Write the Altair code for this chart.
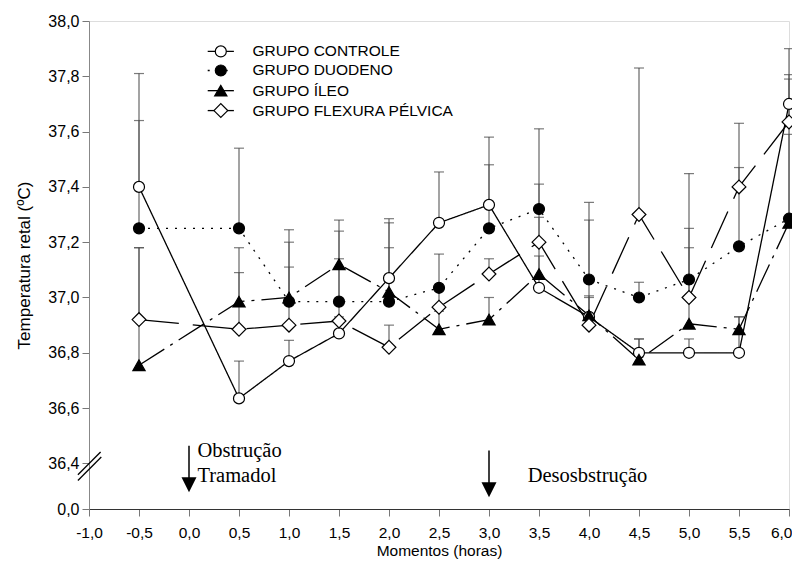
import altair as alt
import pandas as pd

# ---------------- data ----------------
momentos = [-0.5, 0.5, 1.0, 1.5, 2.0, 2.5, 3.0, 3.5, 4.0, 4.5, 5.0, 5.5, 6.0]
grupos = ["GRUPO CONTROLE", "GRUPO DUODENO", "GRUPO ÍLEO", "GRUPO FLEXURA PÉLVICA"]

controle = [37.40, 36.635, 36.77, 36.87, 37.07, 37.27, 37.335, 37.035, 36.93, 36.80, 36.80, 36.80, 37.70]
duodeno = [37.25, 37.25, 36.985, 36.985, 36.985, 37.035, 37.25, 37.32, 37.065, 37.00, 37.065, 37.185, 37.285]
ileo = [36.755, 36.985, 37.00, 37.12, 37.02, 36.885, 36.92, 37.085, 36.935, 36.775, 36.905, 36.885, 37.27]
flexura = [36.92, 36.885, 36.90, 36.915, 36.82, 36.965, 37.085, 37.20, 36.90, 37.30, 37.00, 37.40, 37.635]

controle_sup = [37.81, 36.77, 36.845, 36.93, 37.285, 37.454, 37.58, 37.29, 37.006, 36.85, 36.85, 36.93, 37.90]
duodeno_sup = [37.64, 37.54, 37.245, 37.24, 37.18, 37.157, 37.48, 37.61, 37.344, 37.055, 37.448, 37.47, 37.59]
ileo_sup = [37.18, 37.18, 37.20, 37.28, 37.27, 36.95, 37.00, 37.15, 37.00, 36.85, 37.18, 36.93, 37.79]
flexura_sup = [37.18, 37.09, 37.11, 37.14, 36.90, 37.03, 37.14, 37.41, 37.28, 37.83, 37.25, 37.63, 37.806]

y_ticks = [36.4, 36.6, 36.8, 37.0, 37.2, 37.4, 37.6, 37.8, 38.0]
x_ticks = [-1.0, -0.5, 0.0, 0.5, 1.0, 1.5, 2.0, 2.5, 3.0, 3.5, 4.0, 4.5, 5.0, 5.5, 6.0]
Y_ZERO = 36.235  # position standing for "0,0" below the axis break

# ---------------- styles ----------------
dashes = {
    "GRUPO CONTROLE": [1, 0],
    "GRUPO DUODENO": [2, 7],
    "GRUPO ÍLEO": [30, 7, 3, 7],
    "GRUPO FLEXURA PÉLVICA": [40, 14],
}
shapes = {"GRUPO CONTROLE": "circle", "GRUPO DUODENO": "circle",
          "GRUPO ÍLEO": "triangle-up", "GRUPO FLEXURA PÉLVICA": "diamond"}
fills = {"GRUPO CONTROLE": "white", "GRUPO DUODENO": "black",
         "GRUPO ÍLEO": "black", "GRUPO FLEXURA PÉLVICA": "white"}
sizes = {"GRUPO CONTROLE": 121, "GRUPO DUODENO": 121,
         "GRUPO ÍLEO": 150, "GRUPO FLEXURA PÉLVICA": 190}

vals = {"GRUPO CONTROLE": (controle, controle_sup),
        "GRUPO DUODENO": (duodeno, duodeno_sup),
        "GRUPO ÍLEO": (ileo, ileo_sup),
        "GRUPO FLEXURA PÉLVICA": (flexura, flexura_sup)}

rows = []
for g in grupos:
    m, s = vals[g]
    for x, v, u in zip(momentos, m, s):
        rows.append({"momento": x, "temp": v, "sup": u, "grupo": g})
df = pd.DataFrame(rows)

x_scale = alt.Scale(domain=[-1.0, 6.0], nice=False, zero=False)
y_scale = alt.Scale(domain=[Y_ZERO, 38.0], nice=False, zero=False)

x_label = "(datum.value < 0 ? '-' : '') + replace(format(abs(datum.value), '.1f'), '.', ',')"
y_label = "datum.value < 36.3 ? '0,0' : replace(format(datum.value, '.1f'), '.', ',')"

X = alt.X("momento:Q", scale=x_scale,
          axis=alt.Axis(values=x_ticks, labelExpr=x_label, title="Momentos (horas)",
                        grid=False, tickSize=7, tickColor="#777", domainColor="#333",
                        labelFontSize=15.5, labelFont="Liberation Sans", labelColor="black",
                        labelAlign={"condition": {"test": "datum.value > 5.9", "value": "right"},
                                    "value": "center"},
                        labelOffset={"condition": {"test": "datum.value > 5.9", "value": 3},
                                     "value": 0},
                        titleFont="Liberation Sans", titleFontSize=15.5, titleFontWeight="normal",
                        titleColor="black", labelPadding=9, titlePadding=3, labelFlush=False))
Y = alt.Y("temp:Q", scale=y_scale,
          axis=alt.Axis(values=[Y_ZERO] + y_ticks, labelExpr=y_label,
                        title="Temperatura retal (ºC)", grid=False, tickSize=7,
                        tickColor="#777", domainColor="#888",
                        labelFontSize=16, labelFont="Liberation Sans", labelColor="black",
                        titleFont="Liberation Sans", titleFontSize=17, titleFontWeight="normal",
                        titleColor="black", labelPadding=3, titlePadding=14, labelFlush=False))

base = alt.Chart(df)

err = base.mark_rule(color="#666", strokeWidth=1.2).encode(
    x=X, y=Y, y2="sup:Q")
caps = base.mark_tick(color="#444", orient="horizontal", size=10, thickness=1.2).encode(
    x="momento:Q", y="sup:Q")

layers = [err, caps]
for g in grupos:
    sub = alt.Chart(df[df.grupo == g])
    layers.append(sub.mark_line(color="black", strokeWidth=1.3, strokeDash=dashes[g]).encode(
        x="momento:Q", y="temp:Q"))
for g in grupos:
    sub = alt.Chart(df[df.grupo == g])
    layers.append(sub.mark_point(filled=True, opacity=1, fill=fills[g], stroke="black",
                                 strokeWidth=1.2, shape=shapes[g], size=sizes[g]).encode(
        x="momento:Q", y="temp:Q"))

# ---------------- legend ----------------
leg_y = [37.89, 37.821, 37.748, 37.676]
leg = pd.DataFrame({"grupo": grupos, "y": leg_y, "x1": [0.187] * 4, "x2": [0.449] * 4,
                    "xm": [0.318] * 4, "xt": [0.635] * 4})
for i, g in enumerate(grupos):
    sub = alt.Chart(leg.iloc[[i]])
    layers.append(sub.mark_rule(color="black", strokeWidth=1.3, strokeDash=dashes[g]).encode(
        x="x1:Q", x2="x2:Q", y="y:Q"))
    layers.append(sub.mark_point(filled=True, opacity=1, fill=fills[g], stroke="black",
                                 strokeWidth=1.2, shape=shapes[g], size=sizes[g]).encode(
        x="xm:Q", y="y:Q"))
layers.append(alt.Chart(leg).mark_text(align="left", baseline="middle", font="Liberation Sans",
                                       fontSize=15.5, color="black").encode(
    x="xt:Q", y="y:Q", text="grupo:N"))

# ---------------- annotations ----------------
arr = pd.DataFrame({"x": [0.0, 3.0], "y1": [36.464, 36.447], "y2": [36.335, 36.318],
                    "yh": [36.323, 36.305]})
layers.append(alt.Chart(arr).mark_rule(color="black", strokeWidth=1.5).encode(
    x="x:Q", y="y1:Q", y2="y2:Q"))
layers.append(alt.Chart(arr).mark_point(filled=True, opacity=1, color="black",
                                        shape="M-1,-1L1,-1L0,1Z", size=225).encode(
    x="x:Q", y="yh:Q"))

notes = pd.DataFrame({"x": [0.084, 0.084, 3.387], "y": [36.443, 36.353, 36.353],
                      "t": ["Obstrução", "Tramadol", "Desosbstrução"]})
layers.append(alt.Chart(notes).mark_text(align="left", baseline="middle", font="Liberation Serif",
                                         fontSize=20.5, color="black").encode(
    x="x:Q", y="y:Q", text="t:N"))

brk = pd.DataFrame({"x1": [-1.111, -1.111], "x2": [-0.884, -0.877],
                    "y1": [36.359, 36.338], "y2": [36.441, 36.423]})
layers.append(alt.Chart(brk).mark_rule(color="black", strokeWidth=1.3).encode(
    x="x1:Q", x2="x2:Q", y="y1:Q", y2="y2:Q"))

chart = alt.layer(*layers).properties(
    width=700, height=488,
    autosize=alt.AutoSizeParams(type="none"),
    padding={"left": 81, "top": 13, "right": 3, "bottom": 56},
).configure_view(stroke=None).configure(background="white")

chart.save("out.html", embed_options={"renderer": "svg", "actions": False})
